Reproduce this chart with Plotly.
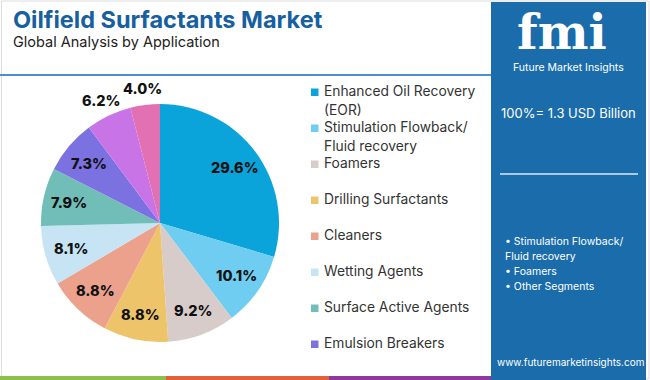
import math
import plotly.graph_objects as go

W, H = 650, 380

categories = ["Enhanced Oil Recovery (EOR)", "Stimulation Flowback/ Fluid recovery", "Foamers",
              "Drilling Surfactants", "Cleaners", "Wetting Agents", "Surface Active Agents",
              "Emulsion Breakers", "Corrosion Inhibitors", "Others"]
shares = [29.6, 10.1, 9.2, 8.8, 8.8, 8.1, 7.9, 7.3, 6.2, 4.0]
colors = ["#0AA4DA", "#6ECDF1", "#D7CCC9", "#EEC46B", "#EBA18B", "#C6E4F3", "#70BEB7",
          "#7B71E1", "#C874E7", "#E271B3"]
label_outside = [False] * 8 + [True] * 2

legend_lines = [["Enhanced Oil Recovery", "(EOR)"], ["Stimulation Flowback/", "Fluid recovery"],
                ["Foamers"], ["Drilling Surfactants"], ["Cleaners"], ["Wetting Agents"],
                ["Surface Active Agents"], ["Emulsion Breakers"]]

title = "Oilfield Surfactants Market"
subtitle = "Global Analysis by Application"
total_text = "100%= 1.3 USD Billion"
bullets = ["• Stimulation Flowback/", "Fluid recovery", "• Foamers", "• Other Segments"]
url = "www.futuremarketinsights.com"

FONT = "Inter"
PANEL = "#1B6CAB"

# pie geometry (pixels)
CX, CY, R = 160, 223, 119


def X(px):
    return px / W


def Y(py):
    return 1 - py / H


fig = go.Figure()
fig.add_trace(go.Pie(
    values=shares, labels=categories, sort=False, direction="clockwise", rotation=0,
    marker=dict(colors=colors, line=dict(width=0)),
    textinfo="none",
    domain=dict(x=[X(CX - R), X(CX + R)], y=[Y(CY + R), Y(CY - R)]),
    showlegend=False, hoverinfo="label+percent",
))

shapes = []
ann = []

# slice labels placed along each slice's bisector
total = sum(shares)
cum = 0.0
for v, out in zip(shares, label_outside):
    mid = (cum + v / 2) / total * 2 * math.pi
    cum += v
    r = R + 17 if out else R - 26
    px = CX + r * math.sin(mid)
    py = CY - r * math.cos(mid)
    ann.append(dict(text=f"{v:.1f}%", x=X(px), y=Y(py), xanchor="center", yanchor="middle",
                    font=dict(family=FONT, size=14.5, color="#111111", weight=800)))

# frame
shapes.append(dict(type="rect", xref="paper", yref="paper", x0=X(1.5), x1=X(649), y0=Y(379), y1=Y(1),
                   line=dict(color="#DDDDDD", width=1), fillcolor="rgba(0,0,0,0)", layer="below"))
# header line
shapes.append(dict(type="line", xref="paper", yref="paper", x0=X(0), x1=X(492), y0=Y(75), y1=Y(75),
                   line=dict(color="#4A8FCF", width=2)))
# bottom stripes
for x0, x1, c in [(0, 166, "#8CBF4B"), (166, 329, "#E0613A"), (329, 492, "#8E3A9C")]:
    shapes.append(dict(type="rect", xref="paper", yref="paper", x0=X(x0), x1=X(x1), y0=Y(380), y1=Y(376),
                       line=dict(width=0), fillcolor=c))
# right panel
shapes.append(dict(type="rect", xref="paper", yref="paper", x0=X(491), x1=X(646), y0=Y(380), y1=Y(2),
                   line=dict(width=0), fillcolor=PANEL))
shapes.append(dict(type="line", xref="paper", yref="paper", x0=X(500), x1=X(638), y0=Y(174), y1=Y(174),
                   line=dict(color="rgba(255,255,255,0.85)", width=1.5)))

# title
ann.append(dict(text=f"<b>{title}</b>", x=X(11), y=Y(19), xanchor="left", yanchor="middle",
                font=dict(family=FONT, size=23.5, color="#17609F", weight=800)))
ann.append(dict(text=subtitle, x=X(11), y=Y(41), xanchor="left", yanchor="middle",
                font=dict(family=FONT, size=14.5, color="#222222")))

# legend
for i, lines in enumerate(legend_lines):
    yc = 91 + 36 * i
    shapes.append(dict(type="rect", xref="paper", yref="paper", x0=X(311), x1=X(318.5),
                       y0=Y(yc + 5), y1=Y(yc - 2.5), line=dict(width=0), fillcolor=colors[i]))
    for j, line in enumerate(lines):
        ann.append(dict(text=line, x=X(322), y=Y(yc + 19 * j), xanchor="left", yanchor="middle",
                        font=dict(family=FONT, size=13.8, color="#333333")))

# panel text
ann.append(dict(text="<b>fmi</b>", x=X(562), y=Y(32), xanchor="center", yanchor="middle",
                font=dict(family="DejaVu Serif", size=48, color="white")))
ann.append(dict(text="Future Market Insights", x=X(568), y=Y(67), xanchor="center", yanchor="middle",
                font=dict(family=FONT, size=10.5, color="white")))
ann.append(dict(text=total_text, x=X(568), y=Y(113), xanchor="center", yanchor="middle",
                font=dict(family=FONT, size=13, color="white")))
for k, b in enumerate(bullets):
    ann.append(dict(text=b, x=X(503), y=Y(241 + 15.3 * k), xanchor="left", yanchor="middle",
                    font=dict(family=FONT, size=10.5, color="white")))
ann.append(dict(text=url, x=X(570), y=Y(362), xanchor="center", yanchor="middle",
                font=dict(family=FONT, size=10, color="white")))

for a in ann:
    a.update(xref="paper", yref="paper", showarrow=False)

fig.update_layout(width=W, height=H, margin=dict(l=0, r=0, t=0, b=0),
                  paper_bgcolor="white", plot_bgcolor="white",
                  shapes=shapes, annotations=ann)
fig.write_html("out.html", config={"displayModeBar": False},
               post_script="document.body.style.margin='0px';")
